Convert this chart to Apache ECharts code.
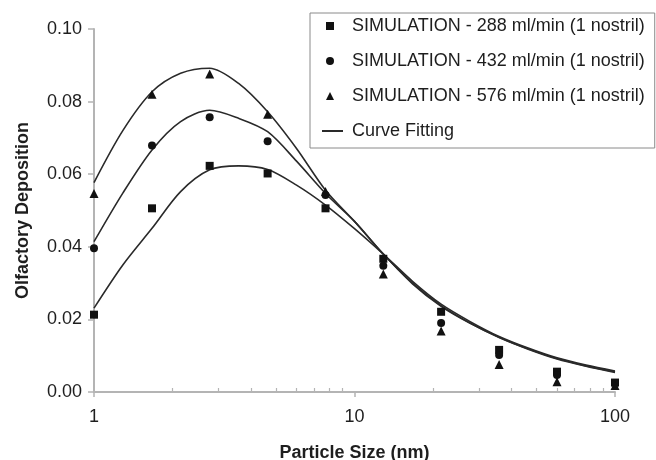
<!DOCTYPE html>
<html>
<head>
<meta charset="utf-8">
<script src="https://cdn.jsdelivr.net/npm/echarts@6/dist/echarts.min.js"></script>
<style>
  html, body { margin: 0; padding: 0; background: #ffffff; }
  #chart { width: 656px; height: 460px; }
</style>
</head>
<body>
<div id="chart"></div>
<script>
// Simulated olfactory deposition fraction per particle size (nm)
const particleSize = [1, 1.67, 2.78, 4.64, 7.74, 12.9, 21.5, 35.9, 59.9, 100];
const sim288 = [0.0213, 0.0506, 0.0623, 0.0602, 0.0506, 0.0367, 0.0221, 0.0116, 0.0056, 0.0026];
const sim432 = [0.0396, 0.0679, 0.0757, 0.0691, 0.0543, 0.0348, 0.0190, 0.0102, 0.0047, 0.0024];
const sim576 = [0.0547, 0.0820, 0.0876, 0.0765, 0.0552, 0.0325, 0.0168, 0.0076, 0.0028, 0.0018];

// Fitted curves, sampled along the size range
const fitSize = [1, 1.29, 1.67, 2.15, 2.78, 3.59, 4.64, 5.99, 7.74, 10, 12.9, 16.7, 21.5, 27.8, 35.9, 46.4, 59.9, 77.4, 100];
const fit288 = [0.0231, 0.0350, 0.0451, 0.0552, 0.0612, 0.0623, 0.0613, 0.0570, 0.0515, 0.0450, 0.0380, 0.0305, 0.0242, 0.0194, 0.0153, 0.0121, 0.0094, 0.0074, 0.0058];
const fit432 = [0.0414, 0.0548, 0.0667, 0.0745, 0.0776, 0.0754, 0.0717, 0.0636, 0.0547, 0.0470, 0.0380, 0.0300, 0.0238, 0.0190, 0.0151, 0.0119, 0.0092, 0.0072, 0.0056];
const fit576 = [0.0577, 0.0720, 0.0827, 0.0878, 0.0892, 0.0850, 0.0772, 0.0671, 0.0556, 0.0470, 0.0380, 0.0298, 0.0236, 0.0189, 0.0150, 0.0118, 0.0091, 0.0071, 0.0054];

const seriesNames = [
  'SIMULATION - 288 ml/min (1 nostril)',
  'SIMULATION - 432 ml/min (1 nostril)',
  'SIMULATION - 576 ml/min (1 nostril)'
];
const fitName = 'Curve Fitting';
const minorTickValues = [2, 3, 4, 5, 6, 7, 8, 9, 20, 30, 40, 50, 60, 70, 80, 90];

const FONT = '"Liberation Sans", Arial, sans-serif';
const INK = '#1e1e1e';
const AXIS_GREY = '#b4b4b4';

const pairs = (xs, ys) => xs.map((x, i) => [x, ys[i]]);

const chart = echarts.init(document.getElementById('chart'), null, { renderer: 'canvas' });

const scatter = (name, data, symbol, size) => ({
  name, type: 'scatter', xAxisIndex: 0, yAxisIndex: 0,
  data: pairs(particleSize, data), symbol, symbolSize: size,
  itemStyle: { color: '#111111', opacity: 1 }, z: 3
});
const fit = (data) => ({
  name: fitName, type: 'line', xAxisIndex: 0, yAxisIndex: 0,
  data: pairs(fitSize, data), smooth: 0.3, showSymbol: false, symbol: 'none',
  lineStyle: { color: '#2a2a2a', width: 1.6 }, itemStyle: { color: '#2a2a2a' }, z: 2
});

chart.setOption({
  backgroundColor: '#ffffff',
  animation: false,
  textStyle: { fontFamily: FONT },
  grid: { left: 94, right: 41, top: 29, bottom: 68, containLabel: false, outerBoundsMode: 'none' },
  legend: [
    {
      data: seriesNames, orient: 'vertical', left: 310, top: 13,
      padding: [4, 10, 43, 16], itemWidth: 8, itemHeight: 8, itemGap: 17,
      borderColor: '#8a8a8a', borderWidth: 1, selectedMode: false,
      textStyle: { fontSize: 18, color: INK, fontFamily: FONT, padding: [0, 0, 0, 13] }
    },
    {
      data: [{ name: fitName, icon: 'rect' }], orient: 'vertical', left: 322, top: 122,
      padding: 0, itemWidth: 21, itemHeight: 2, selectedMode: false,
      textStyle: { fontSize: 18, color: INK, fontFamily: FONT, padding: [0, 0, 0, 4] }
    }
  ],
  xAxis: [
    {
      type: 'log', logBase: 10, min: 1, max: 100,
      name: 'Particle Size (nm)', nameLocation: 'middle', nameGap: 52,
      nameTextStyle: { fontSize: 18, fontWeight: 'bold', color: INK, fontFamily: FONT },
      axisLine: { show: true, lineStyle: { color: AXIS_GREY, width: 2 } },
      axisTick: { show: true, inside: false, length: 5, lineStyle: { color: AXIS_GREY, width: 1.5 } },
      axisLabel: { fontSize: 18, color: INK, margin: 16, fontFamily: FONT },
      splitLine: { show: false }
    },
    {
      // minor decade ticks, drawn upward into the plot along the bottom edge
      type: 'log', logBase: 10, min: 1, max: 100, position: 'top', offset: -363,
      axisLine: { show: false },
      axisTick: { show: true, inside: false, length: 4, customValues: minorTickValues,
                  lineStyle: { color: AXIS_GREY, width: 1.2 } },
      axisLabel: { show: false },
      splitLine: { show: false }
    }
  ],
  yAxis: {
    type: 'value', min: 0, max: 0.1, interval: 0.02,
    name: 'Olfactory Deposition', nameLocation: 'middle', nameGap: 62, nameRotate: 90,
    nameTextStyle: { fontSize: 18, fontWeight: 'bold', color: INK, fontFamily: FONT },
    axisLine: { show: true, lineStyle: { color: AXIS_GREY, width: 2 } },
    axisTick: { show: true, inside: false, length: 6, lineStyle: { color: AXIS_GREY, width: 1.5 } },
    axisLabel: { fontSize: 18, color: INK, margin: 12, fontFamily: FONT,
                 formatter: (v) => v.toFixed(2) },
    splitLine: { show: false }
  },
  series: [
    fit(fit288), fit(fit432), fit(fit576),
    scatter(seriesNames[0], sim288, 'rect', 8),
    scatter(seriesNames[1], sim432, 'circle', 8),
    scatter(seriesNames[2], sim576, 'triangle', 9)
  ]
});
</script>
</body>
</html>
